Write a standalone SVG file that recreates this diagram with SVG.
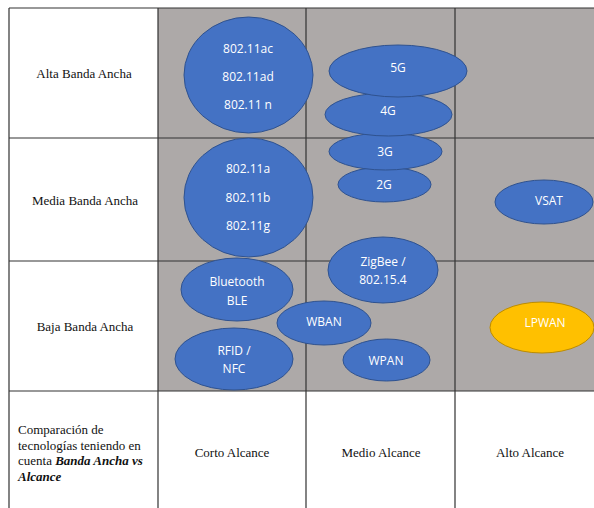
<svg xmlns="http://www.w3.org/2000/svg" width="594" height="508" viewBox="0 0 594 508">
<style>
.grid{stroke:#333;stroke-width:1.2;fill:none}
.blue{fill:#4472C4;stroke:#2F528F;stroke-width:1}
.yel{fill:#FFC000;stroke:#BC8C00;stroke-width:1}
.t{font-family:"Open Sans","Noto Sans",sans-serif;font-size:12px;fill:#fff;text-anchor:middle}
.s{font-family:"Liberation Serif","DejaVu Serif","Times New Roman",serif;font-size:13px;fill:#111;text-anchor:middle}
.sl{font-family:"Liberation Serif","DejaVu Serif","Times New Roman",serif;font-size:13px;fill:#111}
</style>
<rect x="0" y="0" width="594" height="508" fill="#fff"/>
<g id="table">
<rect x="158" y="8" width="436" height="383" fill="#ADA9A8"/>
<path class="grid" d="M9 8H594M9 138H594M9 261H594M9 391H594M9 8V508M158 8V508M306 8V508M455 8V508"/>
</g>
<g id="row-labels">
<text class="s" x="84" y="78">Alta Banda Ancha</text>
<text class="s" x="85" y="205">Media Banda Ancha</text>
<text class="s" x="85" y="331">Baja Banda Ancha</text>
<text class="sl" x="18" y="434">Comparación de</text>
<text class="sl" x="18" y="450">tecnologías teniendo en</text>
<text class="sl" x="18" y="465">cuenta <tspan font-weight="bold" font-style="italic">Banda Ancha vs</tspan></text>
<text class="sl" x="18" y="481" font-weight="bold" font-style="italic">Alcance</text>
</g>
<g id="col-labels">
<text class="s" x="232" y="457">Corto Alcance</text>
<text class="s" x="381" y="457">Medio Alcance</text>
<text class="s" x="530" y="457">Alto Alcance</text>
</g>
<g id="wifi-high">
<ellipse class="blue" cx="248.5" cy="75" rx="64.5" ry="58"/>
<text class="t" x="248" y="53">802.11ac</text>
<text class="t" x="248" y="81">802.11ad</text>
<text class="t" x="248" y="109">802.11 n</text>
</g>
<g id="wifi-mid">
<ellipse class="blue" cx="248.5" cy="197.5" rx="64.5" ry="59.5"/>
<text class="t" x="248" y="173">802.11a</text>
<text class="t" x="248" y="202">802.11b</text>
<text class="t" x="248" y="230">802.11g</text>
</g>
<g id="n2g">
<ellipse class="blue" cx="384.5" cy="184.5" rx="46.5" ry="17.5"/>
<text class="t" x="384" y="189">2G</text>
</g>
<g id="n3g">
<ellipse class="blue" cx="385.5" cy="151.5" rx="56.5" ry="18.5"/>
<text class="t" x="385" y="156">3G</text>
</g>
<g id="n4g">
<ellipse class="blue" cx="388.5" cy="114.5" rx="63.5" ry="21.5"/>
<text class="t" x="388" y="115">4G</text>
</g>
<g id="n5g">
<ellipse class="blue" cx="398" cy="71" rx="69" ry="26"/>
<text class="t" x="398" y="72">5G</text>
</g>
<g id="vsat">
<ellipse class="blue" cx="544" cy="202" rx="49" ry="22"/>
<text class="t" x="549" y="205">VSAT</text>
</g>
<g id="zigbee">
<ellipse class="blue" cx="383" cy="270" rx="55" ry="33"/>
<text class="t" x="383" y="266">ZigBee /</text>
<text class="t" x="383" y="284">802.15.4</text>
</g>
<g id="bluetooth">
<ellipse class="blue" cx="237" cy="289.5" rx="56" ry="31.5"/>
<text class="t" x="237" y="286">Bluetooth</text>
<text class="t" x="237" y="305">BLE</text>
</g>
<g id="wban">
<ellipse class="blue" cx="324" cy="323" rx="47" ry="22"/>
<text class="t" x="324" y="326">WBAN</text>
</g>
<g id="wpan">
<ellipse class="blue" cx="386.5" cy="360" rx="43.5" ry="21"/>
<text class="t" x="386" y="365">WPAN</text>
</g>
<g id="rfid">
<ellipse class="blue" cx="234" cy="359" rx="59" ry="31"/>
<text class="t" x="234" y="355">RFID /</text>
<text class="t" x="234" y="373">NFC</text>
</g>
<g id="lpwan">
<ellipse class="yel" cx="542" cy="327.5" rx="52" ry="25.5"/>
<text class="t" x="545" y="327">LPWAN</text>
</g>
<g id="connectors"/>
</svg>
